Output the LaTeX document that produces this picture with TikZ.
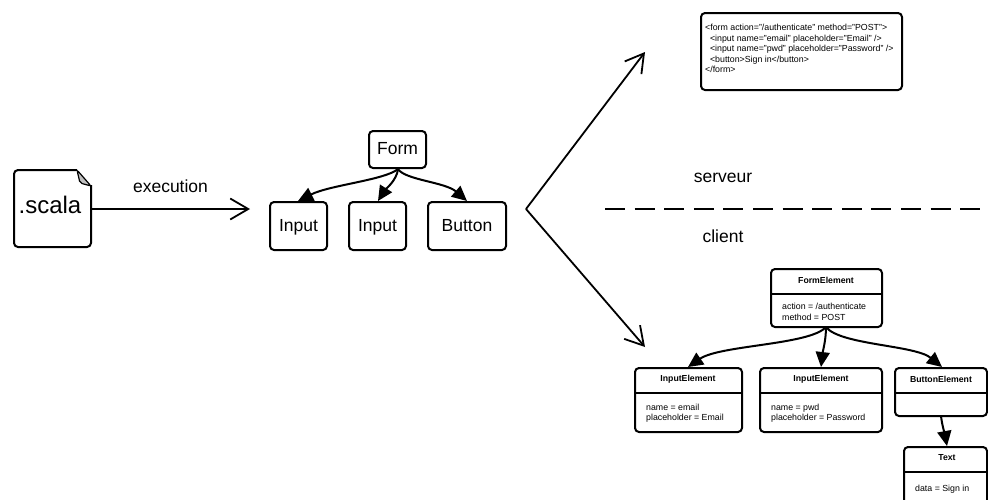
\documentclass[tikz,border=0pt]{standalone}
\usepackage{fontspec}
\setmainfont{Liberation Sans}
\usetikzlibrary{arrows.meta,positioning}
\tikzset{
  box/.style={draw, line width=2pt, rounded corners=4pt, anchor=north west, inner sep=0pt, outer sep=0pt},
  rule/.style={line width=2pt},
  label/.style={inner sep=0pt, text height=12pt, text depth=2pt, font=\fontsize{17.5}{17.5}\selectfont},
  title/.style={inner sep=0pt, font=\fontsize{8.7}{8.7}\selectfont\bfseries},
  attrs/.style={inner sep=0pt, anchor=north west, align=left, font=\fontsize{8.8}{10.5}\selectfont},
  big/.style={line width=1.8pt, -{Straight Barb[length=18pt,width=21pt,line width=1.8pt]}},
  link/.style={line width=2pt, -{Stealth[length=15pt,width=14pt,inset=0pt]}}
}
\begin{document}
\begin{tikzpicture}[x=1pt, y=-1pt]
\useasboundingbox (0,0) rectangle (988,499);
% source file
\node[inner sep=0pt, font=\fontsize{24}{24}\selectfont] (scala) at (50,205) {.scala};
\coordinate (doc) at (91,209);
\draw[rule, rounded corners=4pt] (77,170) -- (14,170) -- (14,247) -- (91,247) -- (91,185);
\draw[line width=1.2pt, fill=lightgray, rounded corners=2pt] (77,170) -- (91,186) -- (80,183) -- cycle;
% component tree
\node[box, minimum width=57pt, minimum height=37pt] (form) at (369,131) {};
\node[label] (formt) at (form.center) {Form};
\node[box, minimum width=57pt, minimum height=48pt] (in1) at (270,202) {};
\node[label] (in1t) at (in1.center) {Input};
\node[box, minimum width=57pt, minimum height=48pt] (in2) at (349,202) {};
\node[label] (in2t) at (in2.center) {Input};
\node[box, minimum width=78pt, minimum height=48pt] (btn) at (428,202) {};
\node[label] (btnt) at (btn.center) {Button};
\coordinate (fs) at (398,169);
\draw[big] (doc) -- node[label, above=14pt] (exec) {execution} (250,209);
\draw[link] (fs) .. controls (385,180) and (330,185) .. (298,201);
\draw[link] (fs) .. controls (397,180) and (385,190) .. (378,201);
\draw[link] (fs) .. controls (405,180) and (445,182) .. (467,201);
% fork
\coordinate (fork) at (526,209);
\coordinate (ftop) at (645,52);
\coordinate (fbot) at (645,347);
\draw[big] (fork) -- (ftop);
\draw[big] (fork) -- (fbot);
% separator
\coordinate (sepl) at (605,209);
\coordinate (sepr) at (981,209);
\draw[rule, dash pattern=on 20pt off 9.6pt] (sepl) -- (sepr);
\node[label] (serveur) at (723,177) {serveur};
\node[label] (client) at (723,237) {client};
% server html
\node[box, minimum width=201pt, minimum height=77pt] (html) at (701,13) {};
\node[attrs] (htmlt) at (705,24) {<form action="/authenticate" method="POST">\\
\ \ <input name="email" placeholder="Email" />\\
\ \ <input name="pwd" placeholder="Password" />\\
\ \ <button>Sign in</button>\\
</form>};
% client tree
\node[box, minimum width=111pt, minimum height=58pt] (fe) at (771,269) {};
\node[title] (fet) at (826,280) {FormElement};
\draw[rule] (771,294) -- (882,294);
\node[attrs] (fea) at (782,303) {action = /authenticate\\method = POST};
\node[box, minimum width=107pt, minimum height=64pt] (ie1) at (635,368) {};
\node[title] (ie1t) at (688,379) {InputElement};
\draw[rule] (635,393) -- (742,393);
\node[attrs] (ie1a) at (646,403.5) {name = email\\placeholder = Email};
\node[box, minimum width=122pt, minimum height=64pt] (ie2) at (760,368) {};
\node[title] (ie2t) at (821,379) {InputElement};
\draw[rule] (760,393) -- (882,393);
\node[attrs] (ie2a) at (771,403.5) {name = pwd\\placeholder = Password};
\node[box, minimum width=92pt, minimum height=48pt] (be) at (895,368) {};
\node[title] (bet) at (941,379) {ButtonElement};
\draw[rule] (895,393) -- (987,393);
\node[box, minimum width=83pt, minimum height=60pt] (te) at (904,447) {};
\node[title] (tet) at (947,458) {Text};
\draw[rule] (904,472) -- (987,472);
\node[attrs] (tea) at (915,485) {data = Sign in};
\coordinate (fes) at (826,327);
\draw[link] (fes) .. controls (810,345) and (720,345) .. (688,367);
\draw[link] (fes) .. controls (826,340) and (823,350) .. (821,367);
\draw[link] (fes) .. controls (840,345) and (915,345) .. (942,367);
\draw[link] (be.south -| 941,0) .. controls (942,425) and (945,435) .. (947,446);
\end{tikzpicture}
\end{document}
